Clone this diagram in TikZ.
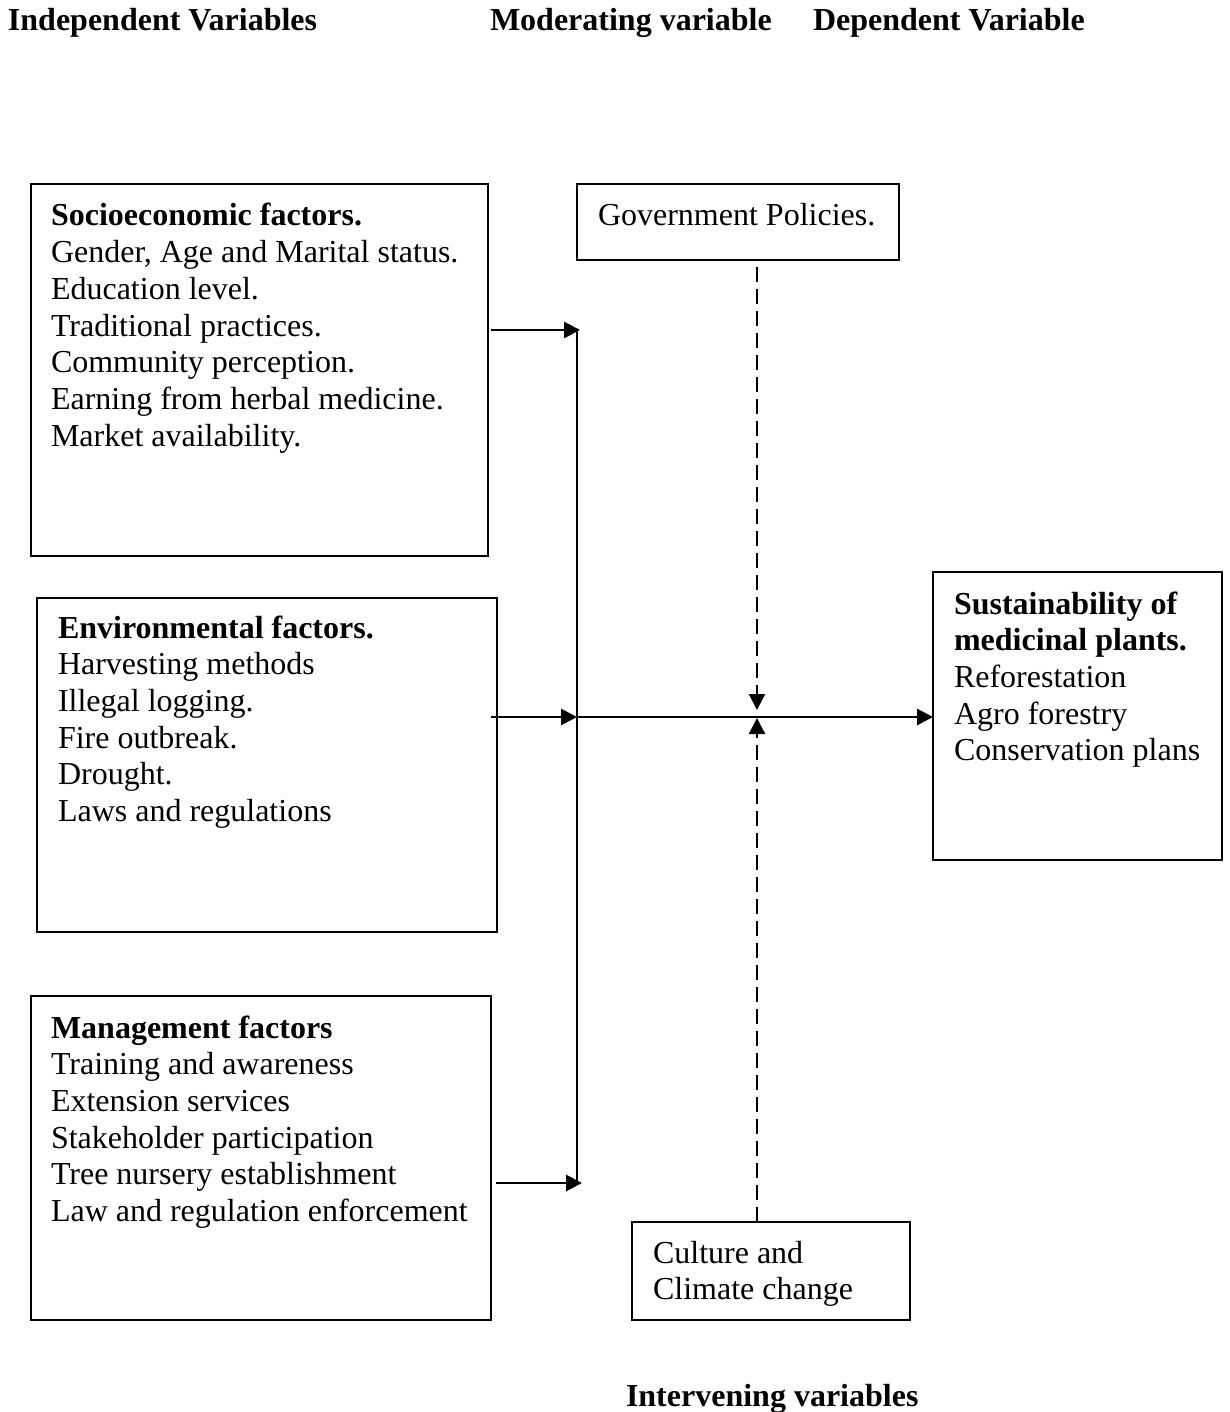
\documentclass[tikz,border=0pt]{standalone}
\usepackage{fontspec}
\setmainfont{Liberation Serif}
\usetikzlibrary{arrows.meta}
\begin{document}
\begin{tikzpicture}[x=1pt,y=-1pt,
  every node/.style={inner sep=0pt, outer sep=0pt},
  box/.style={draw, line width=1.6pt, anchor=north west},
  txt/.style={anchor=base west, font=\fontsize{32pt}{36.7pt}\selectfont},
  hdr/.style={anchor=base west, font=\fontsize{32pt}{36.7pt}\selectfont\bfseries},
  arr/.style={line width=2.9pt, -{Triangle[length=16pt,width=16pt]}},
  link/.style={line width=2.2pt},
  darr/.style={line width=2.2pt, dash pattern=on 15pt off 7pt, -{Triangle[length=16pt,width=16pt]}}
]
\useasboundingbox (0,0) rectangle (1229,1412);

% headers
\node[hdr] (hIndep) at (8,31) {Independent Variables};
\node[hdr] (hMod) at (490,31) {Moderating variable};
\node[hdr] (hDep) at (813,31) {Dependent Variable};
\node[hdr] (hInt) at (626,1406) {Intervening variables};

% boxes
\node[box, minimum width=457pt, minimum height=372pt] (socio) at (31,184) {};
\node[box, minimum width=460pt, minimum height=334pt] (env) at (37,598) {};
\node[box, minimum width=460pt, minimum height=324pt] (mgmt) at (31,996) {};
\node[box, minimum width=322pt, minimum height=76pt] (gov) at (577,184) {};
\node[box, minimum width=289pt, minimum height=288pt] (sust) at (933,572) {};
\node[box, minimum width=278pt, minimum height=98pt] (cult) at (632,1222) {};

% texts
\node[txt] (socioT) at (51,226) {\begin{tabular}[t]{@{}l@{}}
\textbf{Socioeconomic factors.}\\
Gender, Age and Marital status.\\
Education level.\\
Traditional practices.\\
Community perception.\\
Earning from herbal medicine.\\
Market availability.
\end{tabular}};
\node[txt] (envT) at (58,638) {\begin{tabular}[t]{@{}l@{}}
\textbf{Environmental factors.}\\
Harvesting methods\\
Illegal logging.\\
Fire outbreak.\\
Drought.\\
Laws and regulations
\end{tabular}};
\node[txt] (mgmtT) at (51,1038) {\begin{tabular}[t]{@{}l@{}}
\textbf{Management factors}\\
Training and awareness\\
Extension services\\
Stakeholder participation\\
Tree nursery establishment\\
Law and regulation enforcement
\end{tabular}};
\node[txt] (govT) at (598,226) {Government Policies.};
\node[txt] (sustT) at (954,614) {\begin{tabular}[t]{@{}l@{}}
\textbf{Sustainability of}\\
\textbf{medicinal plants.}\\
Reforestation\\
Agro forestry\\
Conservation plans
\end{tabular}};
\node[txt] (cultT) at (653,1263) {\begin{tabular}[t]{@{}l@{}}
Culture and\\
Climate change
\end{tabular}};

% junction points
\coordinate (j1) at (580,330);
\coordinate (j2) at (577,717);
\coordinate (j3) at (582,1183);
\coordinate (gtip) at (757,710);
\coordinate (ctip) at (757,718);

% connectors
\draw[arr] ([xshift=3pt]socio.east |- j1) -- (j1);
\draw[arr] ([xshift=-6pt]env.east |- j2) -- (j2);
\draw[arr] ([xshift=5pt]mgmt.east |- j3) -- (j3);
\draw[link] (577,330) -- (577,1183);
\draw[arr] (j2) -- (sust.west |- j2);
\draw[darr, dash phase=15pt] (gov.south -| gtip) -- (gtip);
\draw[darr] (cult.north -| ctip) -- (ctip);
\end{tikzpicture}
\end{document}
